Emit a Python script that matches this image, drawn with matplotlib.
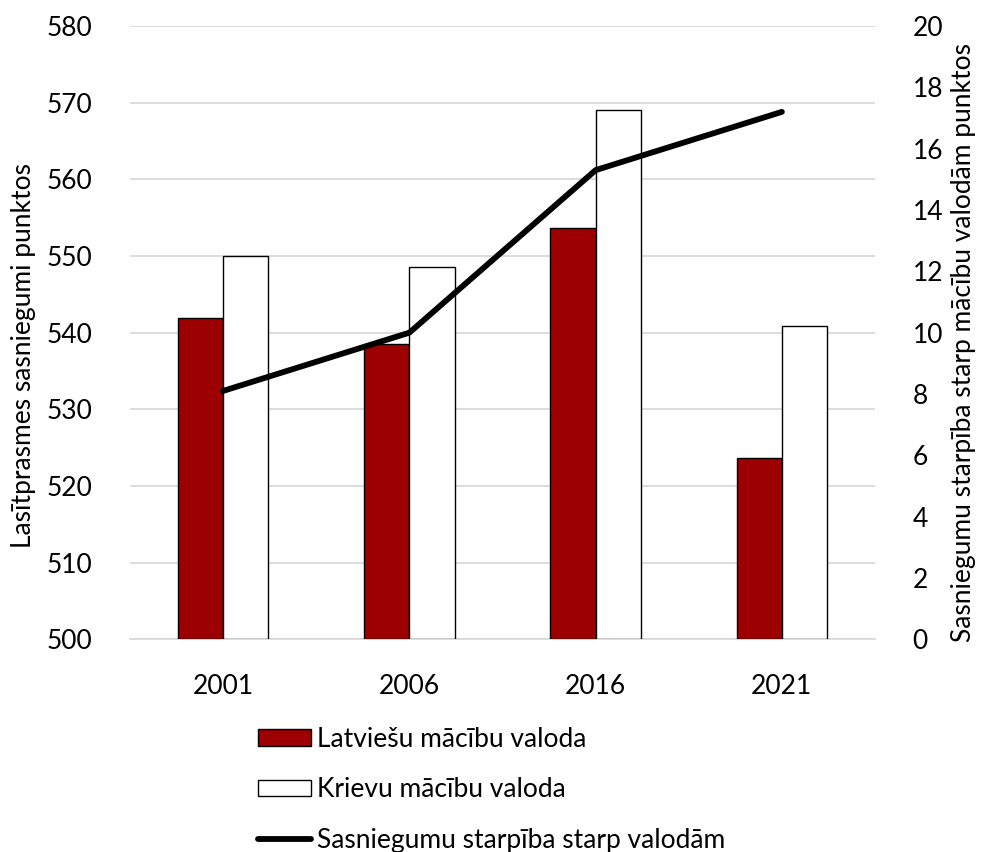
import matplotlib
matplotlib.use("Agg")
import matplotlib.pyplot as plt
import numpy as np
from matplotlib.lines import Line2D
from matplotlib.patches import Patch

years = ["2001", "2006", "2016", "2021"]
latvian = [541.9, 538.5, 553.7, 523.6]
russian = [550.0, 548.5, 569.0, 540.9]
gap = [8.1, 10.0, 15.3, 17.2]

left_ticks = [500, 510, 520, 530, 540, 550, 560, 570, 580]
right_ticks = [0, 2, 4, 6, 8, 10, 12, 14, 16, 18, 20]

label_lv = "Latviešu mācību valoda"
label_ru = "Krievu mācību valoda"
label_gap = "Sasniegumu starpība starp valodām"
ylabel_left = "Lasītprasmes sasniegumi punktos"
ylabel_right = "Sasniegumu starpība starp mācību valodām punktos"

plt.rcParams['font.family'] = ['Lato', 'DejaVu Sans']
FS = 19

fig = plt.figure(figsize=(9.84, 8.52), dpi=100)
ax = fig.add_axes([130/984, 1-639.3/852, (875-130)/984, (639.3-26)/852])

x = np.arange(len(years))
w = 0.243
red = '#9c0000'
ax.bar(x - w/2, [v - 500 for v in latvian], w, bottom=500, color=red,
       edgecolor='black', linewidth=1.0, zorder=3)
ax.bar(x + w/2, [v - 500 for v in russian], w, bottom=500, color='white',
       edgecolor='black', linewidth=1.0, zorder=3)
ax.set_xlim(-0.5, len(years) - 0.5)
ax.set_ylim(500, 580)
ax.set_yticks(left_ticks)
ax.set_xticks(x)
ax.set_xticklabels(years)
ax.yaxis.grid(True, color='#d9d9d9', linewidth=1.3, zorder=0)
ax.set_axisbelow(True)
for s in ['top', 'right', 'left']:
    ax.spines[s].set_visible(False)
ax.spines['bottom'].set_color('#d9d9d9')
ax.spines['bottom'].set_linewidth(1.3)
ax.tick_params(axis='both', length=0, labelsize=FS, colors='black')
ax.tick_params(axis='y', pad=27)
ax.tick_params(axis='x', pad=25)

ax2 = ax.twinx()
ax2.plot(x, gap, color='black', linewidth=4.2, solid_capstyle='round',
         solid_joinstyle='round', zorder=5)
ax2.set_ylim(0, 20)
ax2.set_yticks(right_ticks)
for s in ['top', 'right', 'left', 'bottom']:
    ax2.spines[s].set_visible(False)
ax2.tick_params(axis='y', length=0, labelsize=FS, pad=27)

fig.text(24/984, 1-356/852, ylabel_left, rotation=90, ha='center',
         va='center', fontsize=FS)
fig.text(963/984, 1-342/852, ylabel_right, rotation=90, ha='center',
         va='center', fontsize=FS)

handles = [Patch(facecolor=red, edgecolor='black', linewidth=1.0),
           Patch(facecolor='white', edgecolor='black', linewidth=1.0),
           Line2D([0], [0], color='black', linewidth=4.2, solid_capstyle='round')]
fig.legend(handles, [label_lv, label_ru, label_gap], loc='upper left',
           bbox_to_anchor=(258/984, 1-727/852), frameon=False, fontsize=FS,
           handlelength=2.0, handleheight=0.6, handletextpad=0.25,
           labelspacing=0.96, borderaxespad=0, borderpad=0)

fig.savefig('out.png', dpi=100)
